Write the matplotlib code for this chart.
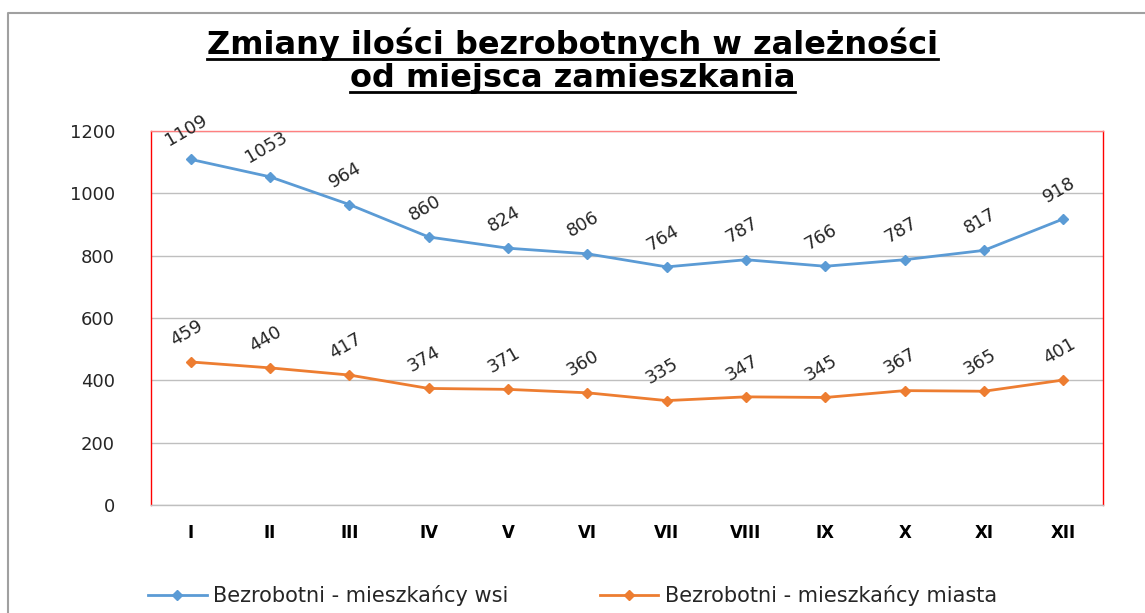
import numpy as np
import matplotlib.pyplot as plt
from matplotlib.lines import Line2D

months = ['I', 'II', 'III', 'IV', 'V', 'VI', 'VII', 'VIII', 'IX', 'X', 'XI', 'XII']
wies = [1109, 1053, 964, 860, 824, 806, 764, 787, 766, 787, 817, 918]
miasto = [459, 440, 417, 374, 371, 360, 335, 347, 345, 367, 365, 401]
yticks = [0, 200, 400, 600, 800, 1000, 1200]

blue = '#5B9BD5'
orange = '#ED7D31'

fig = plt.figure(figsize=(11.45, 6.13), dpi=100)
ax = fig.add_axes([151 / 1145, 1 - 505 / 613, (1103 - 151) / 1145, (505 - 131) / 613])

x = np.arange(len(months))
ax.plot(x, wies, color=blue, lw=2, marker='D', ms=5, label='Bezrobotni - mieszkańcy wsi')
ax.plot(x, miasto, color=orange, lw=2, marker='D', ms=5, label='Bezrobotni - mieszkańcy miasta')

for xi, v in zip(x, wies):
    ax.annotate(str(v), (xi, v), xytext=(-3, 21), textcoords='offset points',
                ha='center', va='center', rotation=30, fontsize=13, color='#262626')
for xi, v in zip(x, miasto):
    ax.annotate(str(v), (xi, v), xytext=(-3, 21), textcoords='offset points',
                ha='center', va='center', rotation=30, fontsize=13, color='#262626')

ax.set_xlim(-0.5, len(months) - 0.5)
ax.set_ylim(0, 1200)
ax.set_yticks(yticks)
ax.set_yticklabels([str(t) for t in yticks], fontsize=13, color='#262626')
ax.set_xticks(x)
ax.set_xticklabels(months, fontsize=12, fontweight='bold', color='black')
ax.tick_params(axis='y', length=0, pad=26)
ax.tick_params(axis='x', length=0, pad=14)
ax.yaxis.grid(True, color='#BFBFBF', lw=1)
ax.set_axisbelow(True)

ax.spines['left'].set_color('#FF0000')
ax.spines['right'].set_color('#FF0000')
ax.spines['top'].set_color('#FF8080')
ax.spines['bottom'].set_color('#BFBFBF')
for s in ax.spines.values():
    s.set_linewidth(1)

leg = fig.legend(loc='center', bbox_to_anchor=(0.5, 1 - 596 / 613), ncol=2, frameon=False,
                 fontsize=15, columnspacing=4.4, handlelength=2.8, handletextpad=0.3)
for t in leg.get_texts():
    t.set_color('#262626')

# chart border (top and left only visible)
fig.add_artist(Line2D([8 / 1145, 8 / 1145, 1], [0, 1 - 13 / 613, 1 - 13 / 613],
                      transform=fig.transFigure, color='#A0A0A0', lw=1.5))

# title with underline
title_lines = ['Zmiany ilości bezrobotnych w zależności', 'od miejsca zamieszkania']
baselines = [54, 87]
fig.canvas.draw()
r = fig.canvas.get_renderer()
for line, b in zip(title_lines, baselines):
    t = fig.text(0.5, 1 - b / 613, line, ha='center', va='baseline', fontsize=23, fontweight='bold')
    bb = t.get_window_extent(renderer=r).transformed(fig.transFigure.inverted())
    yu = 1 - (b + 5) / 613
    fig.add_artist(Line2D([bb.x0, bb.x1], [yu, yu], transform=fig.transFigure, color='black', lw=2))

fig.savefig('out.png', dpi=100)
